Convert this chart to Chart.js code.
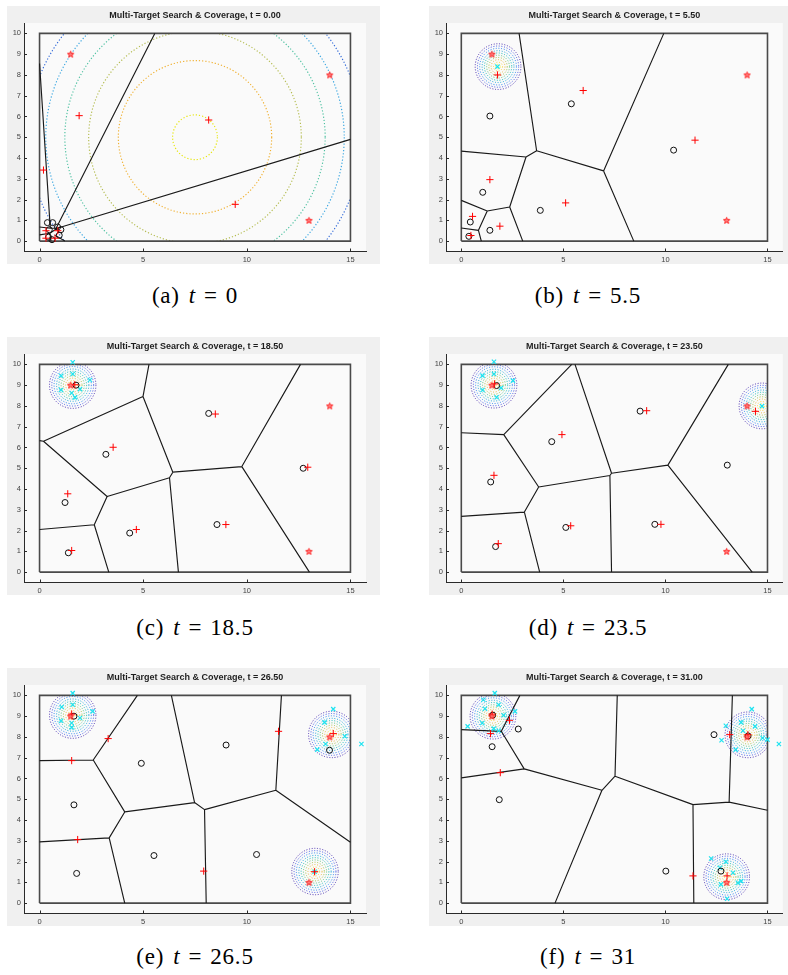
<!DOCTYPE html>
<html><head><meta charset="utf-8">
<script src="https://cdn.jsdelivr.net/npm/chart.js@4.4.1/dist/chart.umd.min.js"></script>
<style>
html,body{margin:0;padding:0;background:#fff;width:788px;height:975px;overflow:hidden;}
body{position:relative;}
.pan{position:absolute;height:258px;}
.cap{position:absolute;width:300px;text-align:center;font-family:'Liberation Serif','Times New Roman',serif;font-size:23px;color:#000;line-height:26px;letter-spacing:0.8px;white-space:nowrap;}
.cap i{font-style:italic;}
.cap .g{display:inline-block;width:9px;}
.cap .eq{margin:0 8px;}
</style></head><body>
<div class="pan" style="left:7px;top:6px;width:373px"><canvas id="c0" width="373" height="258"></canvas></div>
<div class="pan" style="left:429px;top:6px;width:359px"><canvas id="c1" width="359" height="258"></canvas></div>
<div class="pan" style="left:7px;top:337px;width:373px"><canvas id="c2" width="373" height="258"></canvas></div>
<div class="pan" style="left:429px;top:337px;width:359px"><canvas id="c3" width="359" height="258"></canvas></div>
<div class="pan" style="left:7px;top:668px;width:373px"><canvas id="c4" width="373" height="258"></canvas></div>
<div class="pan" style="left:429px;top:668px;width:359px"><canvas id="c5" width="359" height="258"></canvas></div>
<div class="cap" id="k0" style="left:45px;top:283px"></div>
<div class="cap" id="k1" style="left:438px;top:283px"></div>
<div class="cap" id="k2" style="left:45px;top:615px"></div>
<div class="cap" id="k3" style="left:438px;top:615px"></div>
<div class="cap" id="k4" style="left:45px;top:944px"></div>
<div class="cap" id="k5" style="left:438px;top:944px"></div>
<script>
// ---------- data ----------
const xTicks = [0, 5, 10, 15];
const yTicks = [0, 1, 2, 3, 4, 5, 6, 7, 8, 9, 10];
const domainX = [0, 15];
const domainY = [0, 10];
const titleT = ['0.00', '5.50', '18.50', '23.50', '26.50', '31.00'];
const capLetters = ['(a)', '(b)', '(c)', '(d)', '(e)', '(f)'];
const capT = ['0', '5.5', '18.5', '23.5', '26.5', '31'];
const targets = [[1.5, 9.0], [14.0, 8.0], [13.0, 1.0]];

// panel (a) t = 0
const circA = [[0.38,0.89],[0.63,0.89],[0.87,0.68],[1.03,0.55],[0.47,0.55],[0.43,0.19],[0.6,0.07],[0.95,0.28]];
const plusA = [[1.91,6.04],[8.16,5.83],[9.44,1.77],[0.19,3.42],[0.31,0.5],[0.31,0.14],[0.75,0.14],[0.88,0.5]];
const cyanA = [];
const edgeA = [[0,8.55,0.52,0.6],[0.8,0.62,5.56,10],[0.85,0.62,15,4.9],[0,0.68,0.52,0.62],[0.52,0.62,0.85,0.62],
  [0,0.3,0.5,0.38],[0.5,0.38,0.85,0.62],[0.72,0.3,1.22,0],[0.5,0.38,0.55,0]];
const blobA = [];
const wideCenter = [[7.5, 5.0]];
const wideRadii = [1.08, 3.7, 5.13, 6.28, 7.2, 8.05];
const wideColors = ['#e6e60a', '#f0b030', '#b4bc50', '#4cc0a0', '#34a4e0', '#2f68d8'];

// panel (b) t = 5.5
const circB = [[1.4,6.02],[5.39,6.61],[10.4,4.38],[1.05,2.35],[3.87,1.48],[0.44,0.92],[1.4,0.52],[0.37,0.23]];
const plusB = [[1.77,8.0],[5.97,7.25],[11.45,4.86],[1.4,2.96],[5.11,1.84],[0.55,1.19],[1.89,0.72],[0.47,0.27]];
const cyanB = [[1.77,8.4]];
const edgeB = [[2.83,10,3.69,4.35],[3.69,4.35,6.97,3.38],[6.97,3.38,9.92,10],[6.97,3.38,8.45,0],[3.69,4.35,3.17,4.05],
  [0,4.33,3.17,4.05],[3.17,4.05,2.37,1.64],[2.37,1.64,3.01,0],[2.37,1.64,1.27,1.45],[1.27,1.45,0,1.96],
  [1.27,1.45,0.84,0.52],[0.84,0.52,0,0.63],[0.84,0.52,0.98,0]];
const blobB = [[1.8,8.4]];

// panel (c) t = 18.5
const circC = [[8.16,7.64],[3.2,5.67],[1.23,3.35],[4.35,1.88],[8.56,2.29],[12.72,5.0],[1.39,0.93],[1.76,9.0]];
const plusC = [[8.48,7.61],[3.55,6.01],[1.36,3.77],[4.67,2.05],[8.99,2.29],[12.94,5.05],[1.55,1.04],[1.7,9.02]];
const cyanC = [[1.6,10.1],[1.04,9.45],[2.43,9.25],[1.04,8.77],[1.6,9.54],[1.95,8.81],[1.71,8.41],[1.55,8.62]];
const edgeC = [[5.28,10,4.99,8.45],[4.99,8.45,0.19,6.3],[0.19,6.3,0,6.33],[0.19,6.3,3.26,3.64],[4.99,8.45,6.43,4.81],
  [6.43,4.81,6.27,4.54],[6.43,4.81,9.76,5.08],[9.76,5.08,12.59,10],[9.76,5.08,13.02,0],[6.27,4.54,6.7,0],
  [6.27,4.54,3.26,3.64],[3.26,3.64,2.64,2.28],[2.64,2.28,0,2.05],[2.64,2.28,3.34,0]];
const blobC = [[1.6,9.0]];

// panel (d) t = 23.5
const circD = [[1.73,8.98],[8.76,7.75],[4.43,6.28],[1.44,4.34],[13.03,5.15],[5.12,2.15],[9.48,2.3],[1.68,1.23]];
const plusD = [[1.63,9.06],[9.08,7.77],[4.93,6.62],[1.6,4.66],[14.41,7.74],[5.36,2.23],[9.78,2.3],[1.81,1.37]];
const cyanD = [[1.6,10.13],[1.04,9.46],[2.53,9.22],[1.04,8.77],[1.6,9.54],[1.95,8.87],[1.73,8.42],[14.73,7.99]];
const edgeD = [[0,6.71,2.08,6.62],[2.08,6.62,5.41,10],[2.08,6.62,3.79,4.1],[3.79,4.1,7.28,4.65],[7.28,4.65,7.36,4.76],
  [7.36,4.76,5.57,10],[7.36,4.76,10.12,5.15],[7.28,4.65,7.36,0],[10.12,5.15,13.08,10],[10.12,5.15,14.25,0],
  [3.79,4.1,3.09,2.89],[3.09,2.89,0,2.68],[3.09,2.89,3.84,0]];
const blobD = [[1.6,9.0],[14.73,8.0]];

// panel (e) t = 26.5
const circE = [[1.66,9.0],[4.91,6.73],[9.0,7.61],[1.66,4.73],[13.99,7.36],[5.52,2.29],[10.47,2.34],[1.79,1.43]];
const plusE = [[1.55,9.1],[3.31,7.92],[1.55,6.86],[1.84,3.06],[7.92,1.54],[11.53,8.27],[14.17,8.16],[13.27,1.51]];
const cyanE = [[1.6,10.11],[1.07,9.44],[2.56,9.23],[1.04,8.78],[1.6,9.55],[1.95,8.91],[1.55,8.46],[1.55,8.67],
  [14.17,9.34],[13.75,8.7],[14.73,8.03],[15.53,7.66],[13.4,7.39],[13.8,7.66],[13.27,1.51]];
const edgeE = [[4.72,10,2.59,6.89],[2.59,6.89,0,6.86],[2.59,6.89,4.11,4.39],[4.11,4.39,7.48,4.84],[7.48,4.84,6.36,10],
  [7.48,4.84,7.96,4.5],[7.96,4.5,8.04,0],[7.96,4.5,11.4,5.43],[11.4,5.43,11.67,10],[11.4,5.43,15,2.93],
  [4.11,4.39,3.36,3.14],[3.36,3.14,0,2.95],[3.36,3.14,4.11,0]];
const blobE = [[1.6,9.05],[14.1,8.12],[13.29,1.52]];

// panel (f) t = 31
const circF = [[1.54,9.05],[2.79,8.38],[1.51,7.53],[1.86,4.98],[10.02,1.54],[12.38,8.11],[12.72,1.54],[14.05,8.05]];
const plusF = [[1.51,9.1],[2.36,8.8],[1.43,8.16],[1.91,6.28],[11.35,1.31],[13.02,1.31],[13.15,8.11],[14.04,8.11]];
const cyanF = [[0.31,8.51],[1.64,10.11],[1.08,9.79],[1.83,9.55],[2.63,9.23],[1.03,8.67],[1.59,8.4],[1.83,8.3],[1.16,9.36],[2.07,9.04],
  [14.23,9.34],[13.71,8.7],[12.96,8.54],[12.75,7.84],[13.44,7.39],[14.39,8.51],[14.76,7.95],[15.0,7.87],[15.56,7.66],[13.8,8.3],
  [12.24,2.15],[12.96,1.99],[12.67,1.7],[13.31,1.46],[12.72,0.9],[13.55,0.98],[13.71,1.06],[13.02,0.21]];
const edgeF = [[0,8.35,1.96,8.27],[1.96,8.27,2.87,10],[1.96,8.27,3.08,6.46],[3.08,6.46,0,6.03],[3.08,6.46,6.89,5.43],
  [6.89,5.43,4.59,0],[6.89,5.43,7.53,6.11],[7.53,6.11,7.64,10],[7.53,6.11,11.35,4.74],[11.35,4.74,11.39,0],
  [11.35,4.74,13.12,4.86],[13.12,4.86,13.28,10],[13.12,4.86,15,4.47]];
const blobF = [[1.55,9.0],[14.04,8.1],[13.0,1.27]];

const blobRadii = [0.11, 0.22, 0.34, 0.45, 0.56, 0.67, 0.78, 0.9, 1.01, 1.12];
const blobColors = ['#f9f50e', '#fcd535', '#e8ba3c', '#a8c246', '#5ec47e', '#18bcb4', '#1aa6da', '#2d86f0', '#4456e6', '#4a2fb0'];

// ---------- drawing ----------
const panels = [
  {circ: circA, plus: plusA, cyan: cyanA, edge: edgeA, blob: blobA, wide: true},
  {circ: circB, plus: plusB, cyan: cyanB, edge: edgeB, blob: blobB},
  {circ: circC, plus: plusC, cyan: cyanC, edge: edgeC, blob: blobC},
  {circ: circD, plus: plusD, cyan: cyanD, edge: edgeD, blob: blobD},
  {circ: circE, plus: plusE, cyan: cyanE, edge: edgeE, blob: blobE},
  {circ: circF, plus: plusF, cyan: cyanF, edge: edgeF, blob: blobF}
];

function starImage() {
  const c = document.createElement('canvas');
  c.width = 9; c.height = 9;
  const g = c.getContext('2d');
  g.beginPath();
  for (let i = 0; i < 10; i++) {
    const r = i % 2 ? 1.4 : 3.3;
    const a = -Math.PI / 2 + i * Math.PI / 5;
    g.lineTo(4.5 + r * Math.cos(a), 4.8 + r * Math.sin(a));
  }
  g.closePath();
  g.fillStyle = 'rgba(255,120,120,0.9)';
  g.fill();
  g.strokeStyle = '#ff1a1a';
  g.lineWidth = 1;
  g.stroke();
  return c;
}
const STAR = starImage();
const pts = arr => arr.map(p => ({x: p[0], y: p[1]}));
function segPts(arr) {
  const out = [];
  arr.forEach(s => { out.push({x: s[0], y: s[1]}, {x: s[2], y: s[3]}, {x: null, y: null}); });
  return out;
}
const boxPts = [
  {x: domainX[0], y: domainY[0]}, {x: domainX[1], y: domainY[0]}, {x: domainX[1], y: domainY[1]},
  {x: domainX[0], y: domainY[1]}, {x: domainX[0], y: domainY[0]}
];
const tickFont = {family: "'Liberation Sans', Arial, sans-serif", size: 7.5};

function makePlugin(P) {
  return {
    id: 'decor',
    beforeDraw(chart) {
      const {ctx, chartArea: a, width, height} = chart;
      ctx.save();
      ctx.fillStyle = '#f0f0f0';
      ctx.fillRect(0, 0, width, height);
      ctx.fillStyle = '#fafafa';
      ctx.fillRect(a.left, a.top, a.right - a.left, a.bottom - a.top);
      ctx.restore();
    },
    beforeDatasetsDraw(chart) {
      const {ctx} = chart;
      const xs = chart.scales.x, ys = chart.scales.y;
      const x0 = xs.getPixelForValue(domainX[0]), x1 = xs.getPixelForValue(domainX[1]);
      const y0 = ys.getPixelForValue(domainY[0]), y1 = ys.getPixelForValue(domainY[1]);
      const unit = xs.getPixelForValue(1) - xs.getPixelForValue(0);
      ctx.save();
      ctx.beginPath();
      ctx.rect(x0, y1, x1 - x0, y0 - y1);
      ctx.clip();
      ctx.lineWidth = 1.15;
      ctx.setLineDash([1.2, 2]);
      const ring = (c, r, col) => {
        ctx.beginPath();
        ctx.arc(xs.getPixelForValue(c[0]), ys.getPixelForValue(c[1]), r * unit, 0, Math.PI * 2);
        ctx.strokeStyle = col;
        ctx.stroke();
      };
      if (P.wide) wideCenter.forEach(c => wideRadii.forEach((r, i) => ring(c, r, wideColors[i])));
      ctx.lineWidth = 1;
      ctx.setLineDash([1, 1.7]);
      P.blob.forEach(c => blobRadii.forEach((r, i) => ring(c, r, blobColors[i])));
      ctx.restore();
    },
    afterDraw(chart) {
      const {ctx, chartArea: a} = chart;
      const xs = chart.scales.x, ys = chart.scales.y;
      ctx.save();
      ctx.strokeStyle = '#2a2a2a';
      ctx.lineWidth = 1;
      ctx.beginPath();
      xTicks.forEach(v => {
        const px = Math.round(xs.getPixelForValue(v)) + 0.5;
        ctx.moveTo(px, a.bottom); ctx.lineTo(px, a.bottom - 3);
      });
      yTicks.forEach(v => {
        const py = Math.round(ys.getPixelForValue(v)) + 0.5;
        ctx.moveTo(a.left, py); ctx.lineTo(a.left + 3, py);
      });
      ctx.stroke();
      ctx.restore();
    }
  };
}

panels.forEach((P, k) => {
  const el = document.getElementById('c' + k);
  const rightPad = el.width - 359;
  new Chart(el.getContext('2d'), {
    type: 'scatter',
    data: {
      datasets: [
        {data: pts(targets), pointStyle: STAR, pointRadius: 4, order: 0},
        {data: pts(P.plus), pointStyle: 'cross', pointRadius: 3.6, pointBorderColor: '#ff0000',
          pointBackgroundColor: '#ff0000', pointBorderWidth: 1, order: 1},
        {data: pts(P.circ), pointStyle: 'circle', pointRadius: 3, pointBorderColor: '#111111',
          pointBackgroundColor: 'rgba(0,0,0,0)', pointBorderWidth: 1, order: 2},
        {data: pts(P.cyan), pointStyle: 'crossRot', pointRadius: 3, pointBorderColor: '#1fe3f0',
          pointBackgroundColor: '#1fe3f0', pointBorderWidth: 1.2, order: 3},
        {data: segPts(P.edge), showLine: true, spanGaps: false, pointRadius: 0, borderColor: '#1a1a1a',
          borderWidth: 1.15, order: 4},
        {data: boxPts, showLine: true, pointRadius: 0, borderColor: '#4a4a4a', borderWidth: 1.6, order: 5}
      ]
    },
    options: {
      responsive: false,
      animation: false,
      events: [],
      layout: {padding: {left: 0, top: 0, right: rightPad, bottom: 0}},
      plugins: {
        legend: {display: false},
        tooltip: {enabled: false},
        title: {
          display: true, fullSize: false,
          text: 'Multi-Target Search & Coverage, t = ' + titleT[k],
          color: '#1e1e1e',
          font: {family: "'Liberation Sans', Arial, sans-serif", size: 9, weight: 'bold', lineHeight: 1},
          padding: {top: 5, bottom: 3}
        }
      },
      scales: {
        x: {
          type: 'linear', min: -0.75, max: 15.75,
          afterBuildTicks: s => { s.ticks = xTicks.map(v => ({value: v})); },
          afterFit: s => { s.height = 12.5; },
          grid: {display: false, drawTicks: false},
          border: {display: true, color: '#2a2a2a', width: 1},
          ticks: {color: '#444', font: tickFont, padding: 4, maxRotation: 0, autoSkip: false}
        },
        y: {
          type: 'linear', min: -0.5, max: 10.5,
          afterBuildTicks: s => { s.ticks = yTicks.map(v => ({value: v})); },
          afterFit: s => { s.width = 17; },
          grid: {display: false, drawTicks: false},
          border: {display: true, color: '#2a2a2a', width: 1},
          ticks: {color: '#444', font: tickFont, padding: 3, autoSkip: false}
        }
      }
    },
    plugins: [makePlugin(P)]
  });
  document.getElementById('k' + k).innerHTML = capLetters[k] + '<span class="g"></span><i>t</i><span class="eq">=</span>' + capT[k];
});
</script>
</body></html>
